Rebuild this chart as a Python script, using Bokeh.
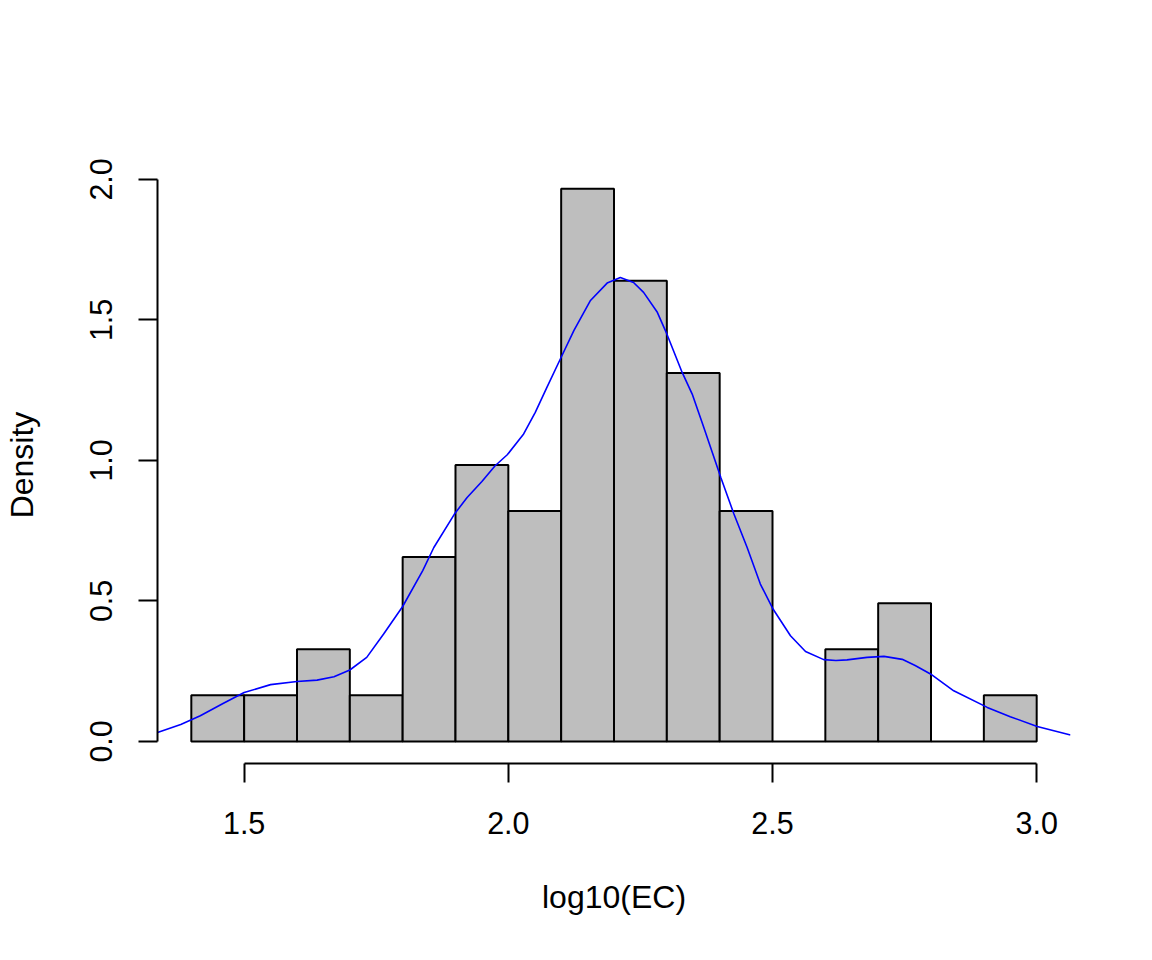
from bokeh.plotting import figure
from bokeh.models import FixedTicker, NumeralTickFormatter, Range1d
from bokeh.embed import file_html
from bokeh.resources import INLINE

# Histogram of log10(EC): bin edges and densities
bin_edges = [1.4, 1.5, 1.6, 1.7, 1.8, 1.9, 2.0, 2.1, 2.2, 2.3, 2.4, 2.5, 2.6, 2.7, 2.8, 2.9, 3.0]
densities = [0.164, 0.164, 0.328, 0.164, 0.656, 0.984, 0.820, 1.967, 1.639, 1.311,
             0.820, 0.0, 0.328, 0.492, 0.0, 0.164]

# Kernel density curve
kde_x = [1.336, 1.38, 1.417, 1.46, 1.5, 1.55, 1.6, 1.638, 1.67, 1.7, 1.732, 1.764, 1.80,
         1.838, 1.859, 1.898, 1.922, 1.95, 1.975, 1.998, 2.029, 2.051, 2.073, 2.100, 2.124,
         2.155, 2.187, 2.212, 2.237, 2.256, 2.282, 2.300, 2.329, 2.348, 2.370, 2.402, 2.427,
         2.452, 2.477, 2.501, 2.534, 2.5625, 2.597, 2.62, 2.641, 2.679, 2.711, 2.7455, 2.77,
         2.799, 2.843, 2.9065, 2.95, 3.001, 3.064]
kde_y = [0.032, 0.060, 0.091, 0.135, 0.174, 0.202, 0.213, 0.218, 0.230, 0.254, 0.299, 0.382,
         0.48, 0.608, 0.690, 0.809, 0.868, 0.925, 0.981, 1.020, 1.094, 1.171, 1.260, 1.367,
         1.462, 1.568, 1.631, 1.651, 1.633, 1.598, 1.527, 1.450, 1.313, 1.236, 1.117, 0.940,
         0.809, 0.690, 0.560, 0.471, 0.376, 0.320, 0.291, 0.288, 0.290, 0.299, 0.3025, 0.292,
         0.270, 0.240, 0.180, 0.121, 0.088, 0.053, 0.023]

x_ticks = [1.5, 2.0, 2.5, 3.0]
y_ticks = [0.0, 0.5, 1.0, 1.5, 2.0]

FONT = "Liberation Sans"

p = figure(width=1136, height=944, output_backend="svg", toolbar_location=None,
           x_range=Range1d(1.336, 3.064), y_range=Range1d(-0.0787, 2.0459),
           min_border_left=157, min_border_right=66, min_border_top=166, min_border_bottom=181)
p.outline_line_color = None
p.xgrid.visible = False
p.ygrid.visible = False
p.background_fill_color = "white"
p.border_fill_color = "white"

p.quad(left=bin_edges[:-1], right=bin_edges[1:], bottom=0, top=densities,
       fill_color="#BEBEBE", line_color="black", line_width=2)
p.line(kde_x, kde_y, line_color="#0000FF", line_width=1.6)

for ax, ticks, bounds in ((p.xaxis[0], x_ticks, (1.5, 3.0)), (p.yaxis[0], y_ticks, (0.0, 2.0))):
    ax.ticker = FixedTicker(ticks=ticks)
    ax.formatter = NumeralTickFormatter(format="0.0")
    ax.bounds = bounds
    ax.axis_line_width = 2
    ax.axis_line_color = "black"
    ax.major_tick_line_width = 2
    ax.major_tick_line_color = "black"
    ax.major_tick_out = 19
    ax.major_tick_in = 0
    ax.minor_tick_line_color = None
    ax.major_label_text_font = FONT
    ax.major_label_text_font_size = "30.5px"
    ax.major_label_text_color = "black"
    ax.axis_label_text_font = FONT
    ax.axis_label_text_font_size = "32px"
    ax.axis_label_text_font_style = "normal"
    ax.axis_label_text_color = "black"

p.xaxis.axis_label = "log10(EC)"
p.yaxis.axis_label = "Density"
p.xaxis.major_label_standoff = 29
p.xaxis.axis_label_standoff = 42
p.yaxis.major_label_orientation = "vertical"
p.yaxis.major_label_standoff = 26
p.yaxis.axis_label_standoff = 48

open("out.html", "w").write(file_html(p, INLINE))
